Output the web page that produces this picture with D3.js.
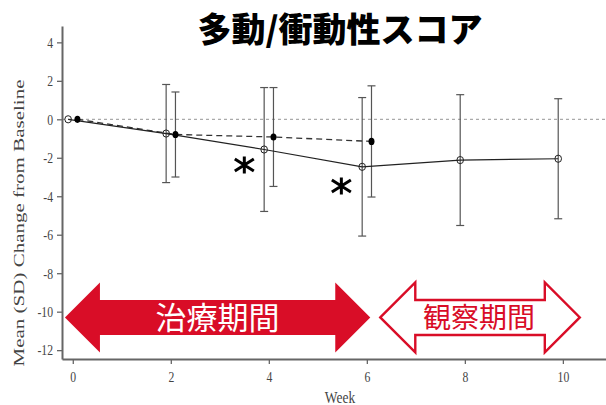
<!DOCTYPE html>
<html>
<head>
<meta charset="utf-8">
<script src="https://cdn.jsdelivr.net/npm/d3@7"></script>
<style>
  body { margin: 0; background: #fff; }
  svg { display: block; }
</style>
</head>
<body>
<div id="chart"></div>
<script>
// weeks and mean (SD) change from baseline
const weeks = [0, 2, 4, 6, 8, 10];
const openMean = [0, -0.74, -1.57, -2.47, -2.12, -2.05];
const openSD = [0, 2.55, 3.22, 3.6, 3.4, 3.12];
const filledWeeks = [0, 2, 4, 6];
const filledMean = [0, -0.79, -0.92, -1.15];
const filledSD = [0, 2.21, 2.57, 2.89];
const xTicks = [0, 2, 4, 6, 8, 10];
const yTicks = [4, 2, 0, -2, -4, -6, -8, -10, -12];
// significance markers (week, value)
const starWeeks = [3.5, 5.48];
const starValues = [-2.38, -3.47];
// period arrows
const periodLabels = ['治療期間', '観察期間'];
const periodStart = [-0.16, 6.25];
const periodEnd = [6.07, 10.37];

const W = 606, H = 405;
const red = '#d90d27';
const axisCol = '#666';

const svg = d3.select('#chart').append('svg')
  .attr('width', W)
  .attr('height', H);

const x = d3.scaleLinear().domain([-0.22, 10.88]).range([62, 606]);
const y = d3.scaleLinear().domain([-12.46, 4.85]).range([359, 26]);

// squeeze text horizontally (the original is stretched vertically)
function squeeze(sel, k) {
  sel.each(function() {
    const len = this.getComputedTextLength();
    d3.select(this).attr('textLength', len * k).attr('lengthAdjust', 'spacingAndGlyphs');
  });
}

// title
svg.append('text')
  .attr('x', 340)
  .attr('y', 42)
  .attr('text-anchor', 'middle')
  .style('font-family', '"Noto Sans CJK JP"')
  .style('font-weight', '900')
  .style('font-size', '34px')
  .style('fill', '#000')
  .text('多動/衝動性スコア');

// zero reference line
svg.append('line')
  .attr('x1', x.range()[0])
  .attr('x2', x.range()[1])
  .attr('y1', y(0))
  .attr('y2', y(0))
  .attr('stroke', '#aaa')
  .attr('stroke-width', 1.2)
  .attr('stroke-dasharray', '3,3');

// axes
const xAxis = svg.append('g')
  .attr('transform', `translate(0,${y.range()[0]})`)
  .call(d3.axisBottom(x).tickValues(xTicks).tickSize(5).tickPadding(6).tickSizeOuter(0));
const yAxis = svg.append('g')
  .attr('transform', `translate(${x.range()[0]},0)`)
  .call(d3.axisLeft(y).tickValues(yTicks).tickSize(5).tickPadding(4).tickSizeOuter(0)
    .tickFormat(d => String(d)));

[xAxis, yAxis].forEach(a => {
  a.select('.domain').attr('stroke', axisCol).attr('stroke-width', 2);
  a.selectAll('.tick line').attr('stroke', axisCol).attr('stroke-width', 1.3);
  a.selectAll('.tick text')
    .style('font-family', '"Liberation Serif"')
    .style('font-size', '15px')
    .style('fill', '#444');
  squeeze(a.selectAll('.tick text'), 0.78);
});
xAxis.selectAll('.tick text').attr('dy', '0.8em');

svg.append('text')
  .attr('x', 340)
  .attr('y', 403)
  .attr('text-anchor', 'middle')
  .style('font-family', '"Liberation Serif"')
  .style('font-size', '16px')
  .style('fill', '#444')
  .text('Week')
  .call(squeeze, 0.84);

svg.append('text')
  .attr('transform', 'translate(24,223) rotate(-90)')
  .attr('text-anchor', 'middle')
  .style('font-family', '"Liberation Serif"')
  .style('font-size', '15px')
  .style('fill', '#444')
  .attr('textLength', 287)
  .attr('lengthAdjust', 'spacingAndGlyphs')
  .text('Mean (SD) Change from Baseline');

// series
const off = 0.095;
const openData = weeks.map((w, i) => ({ w: w - off, m: openMean[i], sd: openSD[i] }));
const filledData = filledWeeks.map((w, i) => ({ w: w + off, m: filledMean[i], sd: filledSD[i] }));

const line = d3.line().x(d => x(d.w)).y(d => y(d.m));

function errorBars(data) {
  const g = svg.append('g');
  const bars = g.selectAll('g').data(data.filter(d => d.sd > 0)).join('g');
  bars.append('line')
    .attr('x1', d => x(d.w)).attr('x2', d => x(d.w))
    .attr('y1', d => y(d.m + d.sd)).attr('y2', d => y(d.m - d.sd));
  bars.append('line')
    .attr('x1', d => x(d.w) - 4).attr('x2', d => x(d.w) + 4)
    .attr('y1', d => y(d.m + d.sd)).attr('y2', d => y(d.m + d.sd));
  bars.append('line')
    .attr('x1', d => x(d.w) - 4).attr('x2', d => x(d.w) + 4)
    .attr('y1', d => y(d.m - d.sd)).attr('y2', d => y(d.m - d.sd));
  bars.selectAll('line').attr('stroke', '#555').attr('stroke-width', 1.2);
}

errorBars(openData);
errorBars(filledData);

svg.append('path')
  .datum(filledData)
  .attr('d', line)
  .attr('fill', 'none')
  .attr('stroke', '#333')
  .attr('stroke-width', 1.3)
  .attr('stroke-dasharray', '6,4');

svg.append('path')
  .datum(openData)
  .attr('d', line)
  .attr('fill', 'none')
  .attr('stroke', '#222')
  .attr('stroke-width', 1.2);

svg.append('g').selectAll('ellipse')
  .data(openData)
  .join('ellipse')
  .attr('cx', d => x(d.w))
  .attr('cy', d => y(d.m))
  .attr('rx', 3.3)
  .attr('ry', 3.6)
  .attr('fill', 'none')
  .attr('stroke', '#222')
  .attr('stroke-width', 1);

svg.append('g').selectAll('ellipse')
  .data(filledData)
  .join('ellipse')
  .attr('cx', d => x(d.w))
  .attr('cy', d => y(d.m))
  .attr('rx', 3)
  .attr('ry', 3.6)
  .attr('fill', '#000');

// asterisks
const star = svg.append('g').selectAll('g')
  .data(starWeeks.map((w, i) => ({ w, v: starValues[i] })))
  .join('g')
  .attr('transform', d => `translate(${x(d.w)},${y(d.v)})`);
star.append('path')
  .attr('d', () => {
    const v = 8.5, dx = 9.5, dy = 6;
    return `M0,${-v}L0,${v}M${-dx},${-dy}L${dx},${dy}M${-dx},${dy}L${dx},${-dy}`;
  })
  .attr('stroke', '#000')
  .attr('stroke-width', 3);

// period arrows
const arrowCy = y(-10.3);
const headLen = 35, headHalf = 35, shaftHalf = 17.5;
function arrowPath(x1, x2) {
  const c = arrowCy;
  return `M${x1},${c}L${x1 + headLen},${c - headHalf}L${x1 + headLen},${c - shaftHalf}` +
    `L${x2 - headLen},${c - shaftHalf}L${x2 - headLen},${c - headHalf}L${x2},${c}` +
    `L${x2 - headLen},${c + headHalf}L${x2 - headLen},${c + shaftHalf}` +
    `L${x1 + headLen},${c + shaftHalf}L${x1 + headLen},${c + headHalf}Z`;
}

const arrows = svg.append('g').selectAll('g')
  .data(periodLabels.map((l, i) => ({ label: l, a: periodStart[i], b: periodEnd[i], filled: i === 0 })))
  .join('g');

arrows.append('path')
  .attr('d', d => d.filled ? arrowPath(x(d.a), x(d.b)) : arrowPath(x(d.a) + 1.2, x(d.b) - 1.2))
  .attr('fill', d => d.filled ? red : '#fff')
  .attr('stroke', red)
  .attr('stroke-width', d => d.filled ? 0 : 2.4)
  .attr('stroke-linejoin', 'miter');

arrows.append('text')
  .attr('x', d => (x(d.a) + x(d.b)) / 2 + (d.filled ? 0 : -1))
  .attr('y', arrowCy)
  .attr('dy', '0.36em')
  .attr('text-anchor', 'middle')
  .style('font-family', '"Noto Sans CJK JP"')
  .style('font-size', d => d.filled ? '31px' : '28px')
  .style('fill', d => d.filled ? '#fff' : red)
  .text(d => d.label);
</script>
</body>
</html>
